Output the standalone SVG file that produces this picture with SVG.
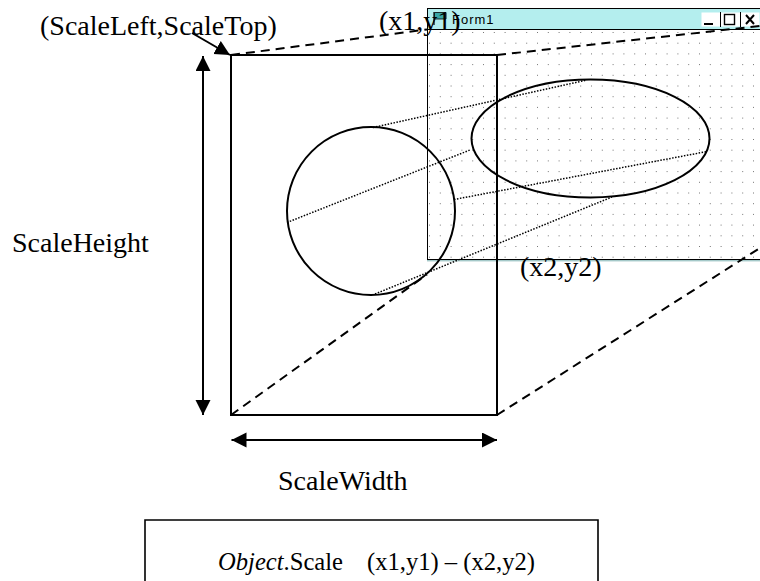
<svg xmlns="http://www.w3.org/2000/svg" width="760" height="581" viewBox="0 0 760 581">
<style>
.lbl{font-family:"Liberation Serif","Times New Roman",serif;font-size:28px;fill:#000}
.thick{fill:none;stroke:#000;stroke-width:2}
.dash{fill:none;stroke:#000;stroke-width:2;stroke-dasharray:9 6}
.dot{fill:none;stroke:#000;stroke-width:1.5;stroke-dasharray:1.5 1.5}
.grid{fill:none;stroke:#777;stroke-width:1;stroke-dasharray:1 9.8}
</style>
<defs>
<marker id="ah" markerUnits="userSpaceOnUse" markerWidth="16" markerHeight="16" refX="15" refY="7.5" orient="auto-start-reverse">
<path d="M0,0 L15,7.5 L0,15 z" fill="#000"/>
</marker>
</defs>
<rect width="760" height="581" fill="#fff"/>

<g id="form-window">
<rect x="427.5" y="29.5" width="340" height="230" fill="#fff" stroke="#000" stroke-width="1"/>
<g class="grid">
<path d="M429,32.5H760M429,43.2H760M429,53.9H760M429,64.6H760M429,75.3H760M429,86H760M429,96.7H760M429,107.4H760M429,118.1H760M429,128.8H760M429,139.5H760M429,150.2H760M429,160.9H760M429,171.6H760M429,182.3H760M429,193H760M429,203.7H760M429,214.4H760M429,225.1H760M429,235.8H760M429,246.5H760M429,257.2H760"/>
</g>
<line x1="427" y1="259.5" x2="760" y2="259.5" stroke="#000" stroke-width="1"/>
<line x1="427" y1="260.8" x2="760" y2="260.8" stroke="#7fb3b3" stroke-width="1"/>
<rect x="427.5" y="8.5" width="340" height="21" fill="#b4eeee" stroke="#000" stroke-width="1"/>
<g id="form-icon">
<line x1="434" y1="12" x2="434" y2="25" stroke="#000" stroke-width="1.2"/>
<path d="M434.5,12.5 H446 V19 H434.5 z" fill="#3aa6a6" stroke="#000" stroke-width="0.8"/>
</g>
<text x="452" y="24" font-family="'Liberation Sans',Arial,sans-serif" font-size="13" letter-spacing="1" fill="#000">Form1</text>
<g id="form-buttons">
<rect x="701.5" y="12.5" width="58" height="14" fill="#fff" stroke="none"/>
<line x1="704" y1="24" x2="713" y2="24" stroke="#000" stroke-width="2"/>
<line x1="720.5" y1="12" x2="720.5" y2="27" stroke="#000" stroke-width="1"/>
<rect x="724.5" y="14.5" width="10" height="10" fill="none" stroke="#000" stroke-width="1.4"/>
<line x1="740.5" y1="12" x2="740.5" y2="27" stroke="#000" stroke-width="1"/>
<path d="M746,15 L754,24 M754,15 L746,24" stroke="#000" stroke-width="2"/>
</g>
</g>

<g id="ellipse-node">
<ellipse cx="590.5" cy="138.5" rx="119" ry="59" class="thick" stroke-width="2.2"/>
</g>

<g id="scale-rect">
<rect x="231" y="55" width="266" height="360" class="thick"/>
</g>

<g id="circle-node">
<circle cx="371" cy="211" r="84" class="thick"/>
</g>

<g id="connectors">
<line x1="231" y1="55" x2="427" y2="29.5" class="dash"/>
<line x1="497" y1="55" x2="760" y2="26" class="dash"/>
<line x1="231" y1="415" x2="427" y2="274.5" class="dash"/>
<line x1="497" y1="415" x2="760" y2="248" class="dash"/>
<line x1="373" y1="127.5" x2="587" y2="80" class="dot"/>
<line x1="287" y1="222.5" x2="470" y2="150" class="dot"/>
<line x1="454" y1="199.5" x2="707" y2="151.5" class="dot"/>
<line x1="375" y1="294" x2="612" y2="197" class="dot"/>
<line x1="203" y1="56" x2="203" y2="415" class="thick" marker-start="url(#ah)" marker-end="url(#ah)"/>
<line x1="231.5" y1="440" x2="497" y2="440" class="thick" marker-start="url(#ah)" marker-end="url(#ah)"/>
<line x1="192" y1="33" x2="230" y2="55" class="thick" marker-end="url(#ah)"/>
</g>

<g id="labels">
<text class="lbl" x="40" y="35">(ScaleLeft,ScaleTop)</text>
<text class="lbl" x="379" y="30">(x1,y1)</text>
<text class="lbl" x="520" y="276">(x2,y2)</text>
<text class="lbl" x="12" y="252">ScaleHeight</text>
<text class="lbl" x="278" y="490">ScaleWidth</text>
</g>

<g id="scale-box">
<path d="M145,582 V520 H598 V582" fill="none" stroke="#000" stroke-width="1.6"/>
<text class="lbl" style="font-size:24.6px" y="570"><tspan x="218" font-style="italic">Object</tspan><tspan>.Scale</tspan><tspan x="367">(x1,y1) – (x2,y2)</tspan></text>
</g>
</svg>
